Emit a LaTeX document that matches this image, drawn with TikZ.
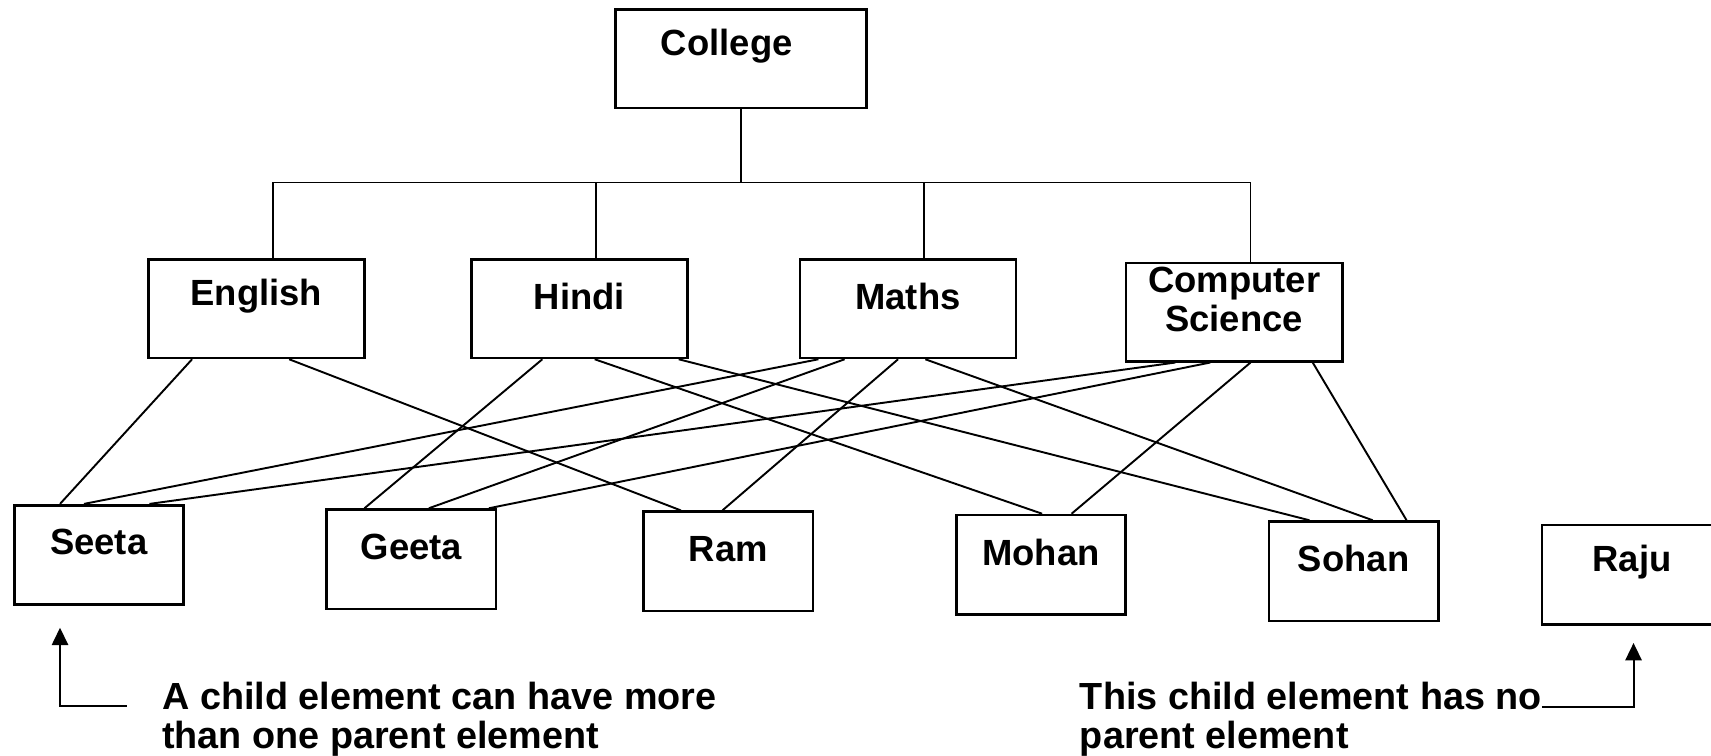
\documentclass[tikz,border=0pt]{standalone}
\usepackage{fontspec}
\setmainfont{Liberation Sans}
\usetikzlibrary{arrows.meta}

\tikzset{
  lbl/.style={font=\bfseries\fontsize{9.5}{10}\selectfont, align=center, yshift=0.115cm},
  box/.style={draw, line width=0.7pt, minimum width=1.55cm, minimum height=0.91cm, label={[lbl]center:#1}},
  subject/.style={box={#1}, minimum width=1.98cm, minimum height=0.90cm},
  note/.style={font=\bfseries\fontsize{9.85}{10}\selectfont, align=left, anchor=west, inner sep=0pt},
  link/.style={line width=0.5pt},
  arr/.style={-{Triangle[width=0.15cm, length=0.16cm]}},
}

\begin{document}
\begin{tikzpicture}
  \useasboundingbox (0,0) rectangle (15.68,-6.92);

  % root and subjects
  \node[draw, line width=0.7pt, minimum width=2.30cm, minimum height=0.90cm,
        label={[lbl, xshift=-0.13cm]center:College}] (college) at (6.79,-0.54) {};
  \node[subject=English] (english) at (2.35,-2.83) {};
  \node[subject=Hindi] (hindi) at (5.31,-2.83) {};
  \node[subject=Maths] (maths) at (8.32,-2.83) {};
  \node[subject={Computer\\Science}] (csci) at (11.31,-2.86) {};

  % students
  \node[box=Seeta] (seeta) at (0.905,-5.085) {};
  \node[box=Geeta] (geeta) at (3.77,-5.125) {};
  \node[box=Ram] (ram) at (6.675,-5.145) {};
  \node[box=Mohan] (mohan) at (9.54,-5.175) {};
  \node[box=Sohan] (sohan) at (12.405,-5.235) {};
  \node[box=Raju, minimum width=1.65cm] (raju) at (14.955,-5.265) {};

  % tree from college down
  \draw[link] (college.south) -- ++(0,-0.67) coordinate (bus);
  \draw[link] ([xshift=0.15cm]english.north) |- (bus) -| ([xshift=0.15cm]csci.north);
  \foreach \n in {hindi, maths}
    \draw[link] ([xshift=0.15cm]\n.north) -- ([xshift=0.15cm]\n.north |- bus);

  % subject -> student links
  \foreach \p/\a/\c/\b in {english/-0.59/seeta/-0.355, english/0.30/ram/-0.435,
      hindi/-0.34/geeta/-0.43, hindi/0.14/mohan/0.01, hindi/0.91/sohan/-0.405,
      maths/-0.82/seeta/-0.135, maths/-0.58/geeta/0.16, maths/-0.09/ram/-0.055,
      maths/0.16/sohan/0.175, csci/-0.54/seeta/0.465, csci/-0.22/geeta/0.71,
      csci/0.15/mohan/0.28, csci/0.72/sohan/0.485}
    \draw[link] ([xshift=\a cm]\p.south) -- ([xshift=\b cm]\c.north);

  % notes
  \node[note] (lnote) at (1.48,-6.59) {A child element can have more\\than one parent element};
  \node[note] (rnote) at (9.89,-6.59) {This child element has no\\parent element};
  \coordinate (lfoot) at (1.16,-6.47);
  \coordinate (rfoot) at (14.13,-6.48);
  \draw[link, arr] (lfoot) -| ([xshift=-0.355cm, yshift=-0.2cm]seeta.south);
  \draw[link, arr] (rfoot) -| ([xshift=0.015cm, yshift=-0.16cm]raju.south);
\end{tikzpicture}
\end{document}
